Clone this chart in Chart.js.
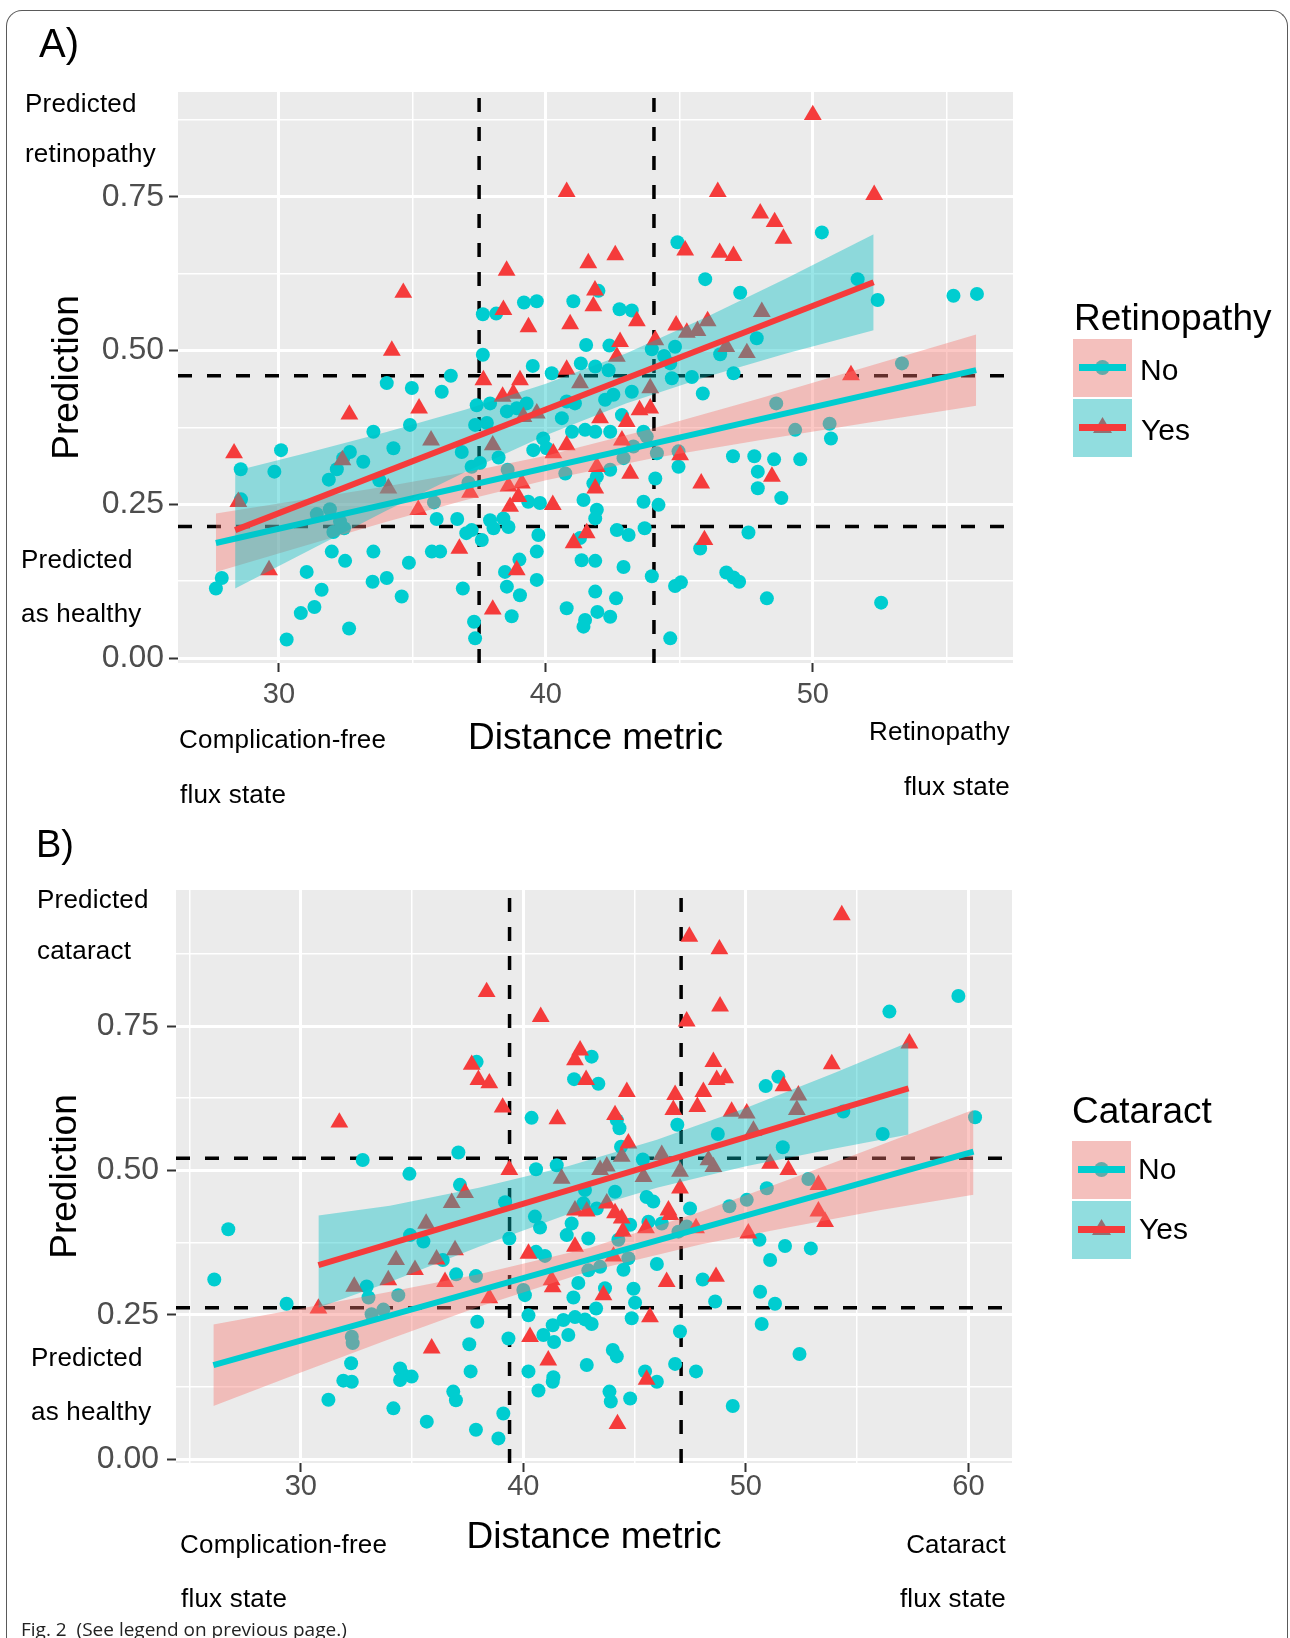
<!DOCTYPE html>
<html>
<head>
<meta charset="utf-8">
<title>Fig. 2</title>
<script src="https://cdn.jsdelivr.net/npm/chart.js@4.4.1/dist/chart.umd.min.js"></script>
<style>
  body { margin: 0; background: #fff; width: 1290px; height: 1638px; position: relative; overflow: hidden;
         font-family: "Liberation Sans", Arial, Helvetica, sans-serif; }
  .frame { position: absolute; left: 6px; top: 10px; width: 1282px; height: 1700px;
           border: 1.5px solid #5a5a5a; border-bottom: none; border-radius: 16px 16px 0 0; box-sizing: border-box; }
  canvas { position: absolute; left: 0; }
  .t { position: absolute; line-height: 1; white-space: nowrap; color: #000;
       font-family: "Liberation Sans", Arial, Helvetica, sans-serif; }
  .note { font-size: 26px; letter-spacing: 0.2px; }
  .panel { font-size: 40px; }
  .legtitle { font-size: 37px; }
  .leglab { font-size: 30px; }
  .r { text-align: right; }
  .key { position: absolute; width: 59px; height: 58px; background: #F2F2F2; overflow: hidden; }
  .key .dot { position: absolute; left: 22px; top: 21px; width: 15px; height: 15px; border-radius: 50%; background: #00CDD0; }
  .key .tri { position: absolute; left: 20px; top: 18px; width: 19px; height: 16px; background: #F53B3B;
              clip-path: polygon(50% 0, 100% 100%, 0 100%); }
  .key .fill { position: absolute; left: 0; top: 0; right: 0; bottom: 0; }
  .key .bar { position: absolute; left: 6px; right: 6px; top: 25px; height: 7px; }
  .caption { position: absolute; left: 21px; top: 1620px; font-family: "Open Sans", "Noto Sans", sans-serif;
             font-size: 19px; line-height: 1; color: #222; white-space: nowrap; }
</style>
</head>
<body>
<div class="frame"></div>

<canvas id="retChart" width="1290" height="800" style="top:0px"></canvas>
<canvas id="catChart" width="1290" height="838" style="top:800px"></canvas>

<!-- panel A texts -->
<div class="t panel" style="left:39px; top:23px;">A)</div>
<div class="t note" style="left:25px; top:90px;">Predicted</div>
<div class="t note" style="left:25px; top:140px;">retinopathy</div>
<div class="t note" style="left:21px; top:546px;">Predicted</div>
<div class="t note" style="left:21px; top:600px;">as healthy</div>
<div class="t note" style="left:179px; top:726px;">Complication-free</div>
<div class="t note" style="left:180px; top:781px;">flux state</div>
<div class="t note r" style="right:280px; top:718px;">Retinopathy</div>
<div class="t note r" style="right:280px; top:773px;">flux state</div>

<div class="t legtitle" style="left:1074px; top:299px;">Retinopathy</div>
<div class="key" style="left:1073px; top:339px;"><div class="dot"></div><div class="fill" style="background:rgba(248,118,109,0.4)"></div><div class="bar" style="background:#00CDD0"></div></div>
<div class="key" style="left:1073px; top:399px;"><div class="tri"></div><div class="fill" style="background:rgba(0,191,196,0.4)"></div><div class="bar" style="background:#F53B3B"></div></div>
<div class="t leglab" style="left:1140px; top:355px;">No</div>
<div class="t leglab" style="left:1141px; top:415px;">Yes</div>

<!-- panel B texts -->
<div class="t panel" style="left:36px; top:825px; font-size:38px;">B)</div>
<div class="t note" style="left:37px; top:886px;">Predicted</div>
<div class="t note" style="left:37px; top:937px;">cataract</div>
<div class="t note" style="left:31px; top:1344px;">Predicted</div>
<div class="t note" style="left:31px; top:1398px;">as healthy</div>
<div class="t note" style="left:180px; top:1531px;">Complication-free</div>
<div class="t note" style="left:181px; top:1585px;">flux state</div>
<div class="t note r" style="right:284px; top:1531px;">Cataract</div>
<div class="t note r" style="right:284px; top:1585px;">flux state</div>

<div class="t legtitle" style="left:1072px; top:1092px;">Cataract</div>
<div class="key" style="left:1072px; top:1141px;"><div class="dot"></div><div class="fill" style="background:rgba(248,118,109,0.4)"></div><div class="bar" style="background:#00CDD0"></div></div>
<div class="key" style="left:1072px; top:1201px;"><div class="tri"></div><div class="fill" style="background:rgba(0,191,196,0.4)"></div><div class="bar" style="background:#F53B3B"></div></div>
<div class="t leglab" style="left:1138px; top:1154px;">No</div>
<div class="t leglab" style="left:1139px; top:1214px;">Yes</div>

<div class="caption">Fig. 2&nbsp; (See legend on previous page.)</div>

<script>
// ---- panel A: retinopathy ----
const retNo = [
  [27.86,0.130],[27.64,0.113],[28.57,0.307],[28.58,0.258],[30.08,0.338],[29.83,0.303],[30.29,0.030],[30.82,0.073],
  [31.33,0.083],[31.04,0.140],[31.60,0.111],[31.98,0.173],[32.48,0.158],[32.63,0.048],[31.87,0.290],[32.17,0.307],
  [32.66,0.335],[32.41,0.325],[33.16,0.319],[33.54,0.368],[33.76,0.289],[34.29,0.341],[34.91,0.379],[34.98,0.439],
  [34.04,0.447],[36.10,0.433],[36.44,0.459],[31.42,0.234],[31.91,0.242],[32.04,0.205],[32.44,0.211],[32.29,0.222],
  [33.54,0.173],[33.51,0.124],[34.04,0.130],[34.60,0.100],[34.87,0.155],[35.81,0.253],[35.91,0.226],[35.73,0.173],
  [36.04,0.173],[36.68,0.226],[36.85,0.335],[36.89,0.113],[37.10,0.285],[37.22,0.311],[37.41,0.411],[37.35,0.379],
  [37.53,0.317],[37.02,0.203],[37.22,0.208],[37.60,0.192],[37.31,0.059],[37.35,0.032],[37.91,0.414],[38.54,0.401],
  [38.91,0.406],[39.28,0.414],[37.79,0.382],[38.23,0.326],[38.57,0.306],[37.91,0.224],[38.04,0.211],[38.41,0.227],
  [38.60,0.213],[38.47,0.140],[38.54,0.116],[39.01,0.160],[39.03,0.102],[38.72,0.068],[39.66,0.127],[39.66,0.173],
  [39.72,0.200],[39.34,0.254],[39.78,0.252],[39.53,0.338],[39.90,0.357],[40.03,0.341],[40.60,0.390],[40.98,0.368],
  [40.78,0.417],[41.09,0.414],[40.73,0.300],[41.41,0.257],[41.47,0.371],[41.28,0.195],[41.34,0.159],[40.78,0.081],
  [41.47,0.062],[41.41,0.051],
  [41.85,0.368],[42.41,0.368],[42.85,0.395],[43.22,0.433],[42.53,0.428],[42.22,0.420],[43.66,0.368],[44.16,0.333],
  [43.28,0.344],[42.91,0.325],[43.78,0.360],[44.72,0.455],[45.47,0.457],[45.88,0.430],[47.03,0.463],[44.97,0.336],
  [44.97,0.311],[44.10,0.292],[42.41,0.306],[41.91,0.295],[41.78,0.284],[48.63,0.414],[49.34,0.371],[50.63,0.381],
  [50.68,0.357],[47.01,0.328],[47.81,0.328],[48.55,0.323],[49.53,0.323],[47.94,0.303],[47.94,0.276],[48.82,0.260],
  [43.66,0.254],[44.22,0.249],[41.91,0.241],[41.85,0.227],[42.66,0.208],[43.10,0.200],[43.70,0.211],[47.59,0.204],
  [45.78,0.178],[41.85,0.158],[42.91,0.148],[43.97,0.133],[44.84,0.117],[45.06,0.123],[46.76,0.139],[47.03,0.131],
  [47.24,0.124],[48.28,0.097],[52.56,0.090],[41.85,0.108],[42.63,0.097],[41.93,0.075],[42.41,0.067],[44.66,0.032],
  [37.64,0.559],[38.14,0.560],[39.18,0.578],[39.66,0.580],[41.03,0.580],[41.51,0.509],[37.64,0.493],[39.51,0.475],
  [40.22,0.463],[41.31,0.479],
  [44.93,0.676],[50.34,0.692],[45.97,0.616],[47.28,0.594],[51.68,0.616],[52.43,0.582],[55.27,0.589],[56.15,0.592],
  [41.97,0.597],[42.76,0.567],[43.22,0.565],[42.38,0.508],[43.97,0.502],[44.84,0.506],[44.43,0.491],[44.66,0.479],
  [46.53,0.494],[47.90,0.520],[42.35,0.468],[41.85,0.474],[53.34,0.479]
];
const retYes = [
  [28.32,0.333],[28.48,0.254],[29.63,0.143],[32.64,0.396],[32.38,0.322],[34.10,0.276],[35.25,0.406],[35.70,0.354],
  [35.22,0.241],[36.76,0.178],[37.16,0.269],[37.66,0.452],[38.01,0.346],[38.38,0.425],[38.78,0.430],[39.03,0.452],
  [39.16,0.392],[39.66,0.398],[38.60,0.279],[39.10,0.284],[38.97,0.262],[38.66,0.246],[38.91,0.143],[38.01,0.079],
  [40.26,0.249],[40.28,0.333],[40.78,0.346],[41.04,0.187],[41.53,0.203],[41.28,0.447],
  [42.03,0.390],[43.03,0.384],[43.51,0.403],[43.91,0.406],[43.91,0.439],[42.85,0.354],[41.91,0.311],[43.16,0.300],
  [41.85,0.276],[45.03,0.330],[45.82,0.284],[48.47,0.295],[45.94,0.192],[51.43,0.460],
  [40.78,0.758],[41.59,0.642],[38.53,0.630],[34.66,0.594],[38.41,0.566],[39.35,0.538],[40.91,0.543],[34.23,0.500],
  [40.78,0.469],[41.78,0.572],[41.84,0.598],
  [50.00,0.883],[46.44,0.758],[52.30,0.753],[48.03,0.723],[48.57,0.709],[48.90,0.682],[45.22,0.663],[46.51,0.659],
  [47.03,0.654],[42.60,0.655],[43.41,0.548],[44.88,0.541],[45.28,0.529],[45.68,0.532],[46.06,0.548],[48.09,0.563],
  [42.78,0.514],[42.66,0.490],[44.10,0.517],[46.76,0.506],[47.53,0.496]
];
const retFitNo = [[27.64, 0.187], [56.12, 0.468]];
const retFitYes = [[28.36, 0.208], [52.28, 0.611]];
const retBandNoX = [27.64, 31, 34, 37, 40, 44, 48, 52, 56.12];
const retBandNoLo = [0.140, 0.183, 0.221, 0.257, 0.289, 0.325, 0.354, 0.382, 0.410];
const retBandNoHi = [0.235, 0.258, 0.279, 0.302, 0.329, 0.373, 0.422, 0.473, 0.526];
const retBandYesX = [28.36, 31, 34, 37, 40, 43, 46, 49, 52.28];
const retBandYesLo = [0.113, 0.172, 0.239, 0.303, 0.362, 0.414, 0.457, 0.495, 0.533];
const retBandYesHi = [0.304, 0.333, 0.367, 0.404, 0.446, 0.495, 0.554, 0.617, 0.689];
const retCutX = [37.5, 44.05];
const retCutY = [0.214, 0.459];
const retXTicks = [30, 35, 40, 45, 50, 55];
const retXLabels = [30, 40, 50];

// ---- panel B: cataract ----
const catNo = [
  [37.90,0.688],[43.07,0.697],[42.28,0.658],[43.37,0.650],[40.37,0.591],[37.08,0.531],[32.78,0.518],[34.88,0.494],
  [40.57,0.502],[41.50,0.509],
  [59.55,0.802],[56.45,0.775],[51.46,0.662],[50.89,0.646],[44.20,0.587],[44.32,0.573],[44.39,0.541],[46.92,0.579],
  [48.74,0.563],[51.66,0.540],[54.38,0.602],[56.15,0.563],[60.30,0.592],[45.37,0.519],
  [26.74,0.398],[26.11,0.311],[29.36,0.269],[37.15,0.475],[32.96,0.299],[33.04,0.280],[32.29,0.212],[32.33,0.201],
  [33.18,0.251],[33.71,0.259],[32.26,0.166],[31.91,0.136],[32.29,0.134],[31.24,0.103],[34.91,0.388],[35.51,0.377],
  [34.38,0.284],[36.38,0.345],[36.98,0.320],[37.87,0.317],[37.93,0.238],[37.57,0.199],[37.63,0.152],[34.46,0.157],
  [34.61,0.146],[34.98,0.143],[34.46,0.137],[34.16,0.088],[35.66,0.065],[36.85,0.117],[36.97,0.102],[37.87,0.051],
  [39.10,0.079],[38.88,0.036],[39.18,0.445],[39.37,0.382],[39.33,0.209],[40.00,0.293],[40.07,0.284],[40.23,0.249],
  [40.23,0.152],[40.68,0.119],[41.32,0.134],[41.35,0.142],[40.52,0.420],[40.75,0.401],[40.57,0.359],[40.97,0.352],
  [40.90,0.215],[41.38,0.203],[41.32,0.232],[41.80,0.241],[42.32,0.246],[42.77,0.242],[43.07,0.234],[42.02,0.215],
  [42.85,0.163],[41.95,0.388],[42.17,0.408],[42.92,0.382],[42.25,0.280],[42.47,0.305],[42.70,0.443],[42.77,0.466],
  [43.30,0.434],[42.92,0.327],[43.27,0.261],
  [44.12,0.463],[45.54,0.454],[45.84,0.446],[47.49,0.434],[45.62,0.411],[46.22,0.408],[44.80,0.406],[44.27,0.380],
  [46.97,0.394],[47.34,0.403],[49.26,0.438],[50.04,0.449],[50.94,0.469],[52.81,0.485],[44.72,0.348],[43.45,0.333],
  [44.50,0.328],[46.00,0.338],[50.61,0.380],[51.76,0.369],[52.92,0.365],[51.09,0.345],[48.06,0.311],[43.67,0.296],
  [44.95,0.295],[45.02,0.271],[50.64,0.290],[51.31,0.269],[48.62,0.273],[44.87,0.244],[47.04,0.221],[50.71,0.234],
  [44.02,0.189],[44.20,0.178],[46.82,0.165],[47.76,0.152],[45.47,0.152],[46.00,0.134],[52.41,0.182],[43.87,0.117],
  [43.93,0.100],[44.80,0.105],[49.41,0.092]
];
const catYes = [
  [38.35,0.809],[40.78,0.766],[37.68,0.683],[37.98,0.657],[38.47,0.651],[39.07,0.609],[42.55,0.708],[42.32,0.691],
  [42.82,0.657],[41.53,0.589],[31.73,0.583],[39.37,0.501],
  [54.31,0.942],[47.46,0.905],[48.81,0.883],[48.84,0.784],[47.34,0.758],[57.35,0.720],[48.54,0.688],[48.69,0.657],
  [49.07,0.660],[44.65,0.636],[46.82,0.631],[46.74,0.605],[48.09,0.636],[47.82,0.610],[49.36,0.602],[50.04,0.599],
  [51.69,0.646],[52.36,0.630],[52.29,0.605],[53.86,0.684],[50.34,0.569],[44.12,0.596],[44.72,0.547],[51.09,0.512],
  [51.91,0.501],[48.54,0.506],[48.32,0.518],[46.22,0.527],[47.04,0.498],[45.40,0.489],[43.45,0.501],[43.75,0.507],
  [44.42,0.524],
  [30.79,0.261],[32.40,0.299],[33.93,0.310],[34.28,0.345],[35.13,0.328],[35.63,0.408],[36.78,0.444],[37.38,0.461],
  [36.10,0.346],[36.93,0.362],[36.48,0.307],[38.47,0.279],[35.88,0.192],[40.30,0.212],[41.12,0.171],[40.23,0.356],
  [41.27,0.310],[41.32,0.298],[42.32,0.368],[42.32,0.431],[42.85,0.429],[41.72,0.486],
  [43.75,0.443],[44.12,0.426],[44.42,0.417],[46.52,0.431],[46.60,0.423],[45.51,0.400],[44.47,0.394],[47.76,0.400],
  [50.11,0.391],[53.26,0.475],[53.26,0.429],[53.56,0.411],[44.05,0.351],[46.44,0.307],[48.66,0.316],[43.60,0.284],
  [45.69,0.246],[45.54,0.138],[44.23,0.061],[47.04,0.469]
];
const catFitNo = [[26.07, 0.163], [60.23, 0.5325]];
const catFitYes = [[30.79, 0.336], [57.31, 0.642]];
const catBandNoX = [26.07, 30, 34, 38, 43, 48, 52, 56, 60.23];
const catBandNoLo = [0.092, 0.150, 0.208, 0.264, 0.326, 0.372, 0.402, 0.431, 0.458];
const catBandNoHi = [0.233, 0.261, 0.290, 0.320, 0.366, 0.429, 0.485, 0.543, 0.605];
const catBandYesX = [30.79, 34, 38, 42, 46, 50, 54, 57.31];
const catBandYesLo = [0.262, 0.307, 0.368, 0.424, 0.470, 0.507, 0.538, 0.562];
const catBandYesHi = [0.422, 0.439, 0.470, 0.507, 0.553, 0.608, 0.669, 0.722];
const catCutX = [39.38, 47.09];
const catCutY = [0.262, 0.521];
const catXTicks = [25, 30, 35, 40, 45, 50, 55, 60];
const catXLabels = [30, 40, 50, 60];

const yTicks = [0, 0.125, 0.25, 0.375, 0.5, 0.625, 0.75, 0.875];
const yLabels = [0, 0.25, 0.5, 0.75];

const cyan = '#00CDD0';
const red = '#F53B3B';
const noBand = 'rgba(248,118,109,0.4)';
const yesBand = 'rgba(0,191,196,0.4)';
const family = "'Liberation Sans', Arial, Helvetica, sans-serif";

function pts(list) {
  return list.map(p => ({x: p[0], y: p[1]}));
}
function edge(xs, ys) {
  return xs.map((x, i) => ({x: x, y: ys[i]}));
}

// grey ggplot panel behind the grid
const panelBg = {
  id: 'panelBg',
  beforeDraw(chart) {
    const a = chart.chartArea;
    const ctx = chart.ctx;
    ctx.save();
    ctx.fillStyle = '#EBEBEB';
    ctx.fillRect(a.left, a.top, a.right - a.left, a.bottom - a.top);
    ctx.restore();
  }
};

function gridFor(majors) {
  const isMajor = c => c.tick && majors.includes(c.tick.value);
  return {
    color: '#FFFFFF',
    lineWidth: c => isMajor(c) ? 3 : 1.5,
    drawTicks: true,
    tickLength: 9,
    tickWidth: c => isMajor(c) ? 2 : 1,
    tickColor: c => isMajor(c) ? '#333333' : 'rgba(0,0,0,0)'
  };
}

function dashLine(data) {
  return {type: 'line', data: data, borderColor: '#000', borderWidth: 3.5, borderDash: [14, 15],
          pointRadius: 0, fill: false, order: 12, clip: 0};
}

function drawPanel(id, p) {
  const datasets = [];
  p.cutX.forEach(x => datasets.push(dashLine([{x: x, y: p.yMin}, {x: x, y: p.yMax}])));
  p.cutY.forEach(y => datasets.push(dashLine([{x: p.xMin, y: y}, {x: p.xMax, y: y}])));

  datasets.push({type: 'scatter', data: pts(p.no), pointStyle: 'circle', pointRadius: 7,
                 backgroundColor: cyan, pointBorderWidth: 0, borderWidth: 0, order: 10});
  datasets.push({type: 'scatter', data: pts(p.yes), pointStyle: 'triangle', pointRadius: 10.3,
                 backgroundColor: red, pointBorderWidth: 0, borderWidth: 0, order: 9});

  // "No" smooth: pink ribbon + cyan line
  datasets.push({type: 'line', data: edge(p.bandNoX, p.bandNoHi), borderColor: 'transparent', borderWidth: 0,
                 pointRadius: 0, fill: '+1', backgroundColor: noBand, order: 8});
  datasets.push({type: 'line', data: edge(p.bandNoX, p.bandNoLo), borderColor: 'transparent', borderWidth: 0,
                 pointRadius: 0, fill: false, order: 8});
  datasets.push({type: 'line', data: pts(p.fitNo), borderColor: cyan, borderWidth: 6,
                 pointRadius: 0, fill: false, order: 7});

  // "Yes" smooth: cyan ribbon + red line
  datasets.push({type: 'line', data: edge(p.bandYesX, p.bandYesHi), borderColor: 'transparent', borderWidth: 0,
                 pointRadius: 0, fill: '+1', backgroundColor: yesBand, order: 6});
  datasets.push({type: 'line', data: edge(p.bandYesX, p.bandYesLo), borderColor: 'transparent', borderWidth: 0,
                 pointRadius: 0, fill: false, order: 6});
  datasets.push({type: 'line', data: pts(p.fitYes), borderColor: red, borderWidth: 6,
                 pointRadius: 0, fill: false, order: 5});

  new Chart(document.getElementById(id), {
    type: 'scatter',
    data: {datasets: datasets},
    plugins: [panelBg],
    options: {
      responsive: false,
      animation: false,
      events: [],
      layout: {padding: p.padding},
      plugins: {legend: {display: false}, tooltip: {enabled: false}},
      scales: {
        x: {
          type: 'linear', min: p.xMin, max: p.xMax,
          afterBuildTicks: ax => { ax.ticks = p.xTicks.map(v => ({value: v})); },
          afterFit: ax => { ax.height = p.xAxisH; },
          grid: gridFor(p.xLabels),
          border: {display: false},
          ticks: {autoSkip: false, maxRotation: 0, padding: p.xPad, color: '#4D4D4D',
                  font: {size: 29, family: family},
                  callback: v => p.xLabels.includes(v) ? String(v) : ''},
          title: {display: true, text: 'Distance metric', color: '#000',
                  font: {size: 37, family: family}, padding: {top: 0, bottom: p.xTitlePad}}
        },
        y: {
          type: 'linear', min: p.yMin, max: p.yMax,
          afterBuildTicks: ax => { ax.ticks = yTicks.map(v => ({value: v})); },
          afterFit: ax => { ax.width = p.yAxisW; },
          grid: gridFor(yLabels),
          border: {display: false},
          ticks: {autoSkip: false, padding: p.yPad, color: '#4D4D4D',
                  font: {size: 32, family: family},
                  callback: v => yLabels.includes(v) ? v.toFixed(2) : ''},
          title: {display: true, text: 'Prediction', color: '#000',
                  font: {size: 37, family: family}, padding: {top: p.yTitlePad, bottom: 0}}
        }
      }
    }
  });
}

drawPanel('retChart', {
  no: retNo, yes: retYes, fitNo: retFitNo, fitYes: retFitYes,
  bandNoX: retBandNoX, bandNoLo: retBandNoLo, bandNoHi: retBandNoHi,
  bandYesX: retBandYesX, bandYesLo: retBandYesLo, bandYesHi: retBandYesHi,
  cutX: retCutX, cutY: retCutY, xTicks: retXTicks, xLabels: retXLabels,
  xMin: 26.22, xMax: 57.50, yMin: -0.0081, yMax: 0.9203,
  padding: {left: 0, top: 92, right: 277, bottom: 0},
  yAxisW: 178, xAxisH: 137, xPad: 6, yPad: 5, yTitlePad: 45.8, xTitlePad: 39
});

drawPanel('catChart', {
  no: catNo, yes: catYes, fitNo: catFitNo, fitYes: catFitYes,
  bandNoX: catBandNoX, bandNoLo: catBandNoLo, bandNoHi: catBandNoHi,
  bandYesX: catBandYesX, bandYesLo: catBandYesLo, bandYesHi: catBandYesHi,
  cutX: catCutX, cutY: catCutY, xTicks: catXTicks, xLabels: catXLabels,
  xMin: 24.39, xMax: 61.96, yMin: -0.0066, yMax: 0.9855,
  padding: {left: 0, top: 90, right: 278, bottom: 0},
  yAxisW: 176, xAxisH: 175, xPad: -2, yPad: 8, yTitlePad: 43.6, xTitlePad: 78.3
});
</script>
</body>
</html>
